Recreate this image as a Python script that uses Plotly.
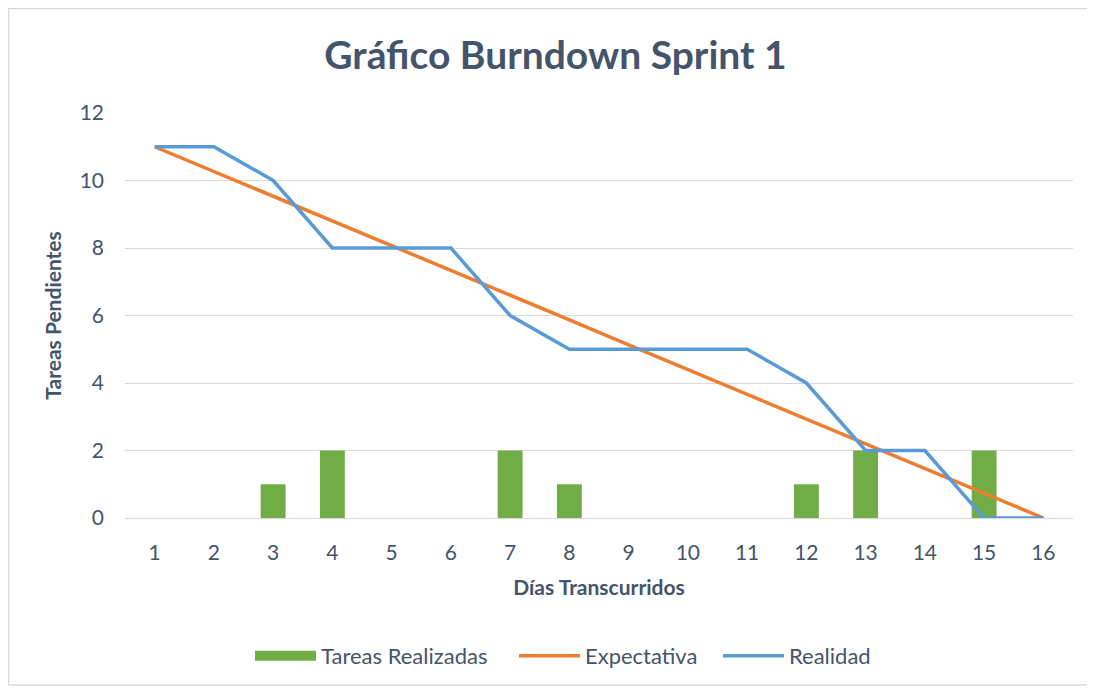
import plotly.graph_objects as go

dias = [1, 2, 3, 4, 5, 6, 7, 8, 9, 10, 11, 12, 13, 14, 15, 16]
tareas_realizadas = [0, 0, 1, 2, 0, 0, 2, 1, 0, 0, 0, 1, 2, 0, 2, 0]
expectativa = [11, 10.27, 9.53, 8.8, 8.07, 7.33, 6.6, 5.87, 5.13, 4.4, 3.67, 2.93, 2.2, 1.47, 0.73, 0]
realidad = [11, 11, 10, 8, 8, 8, 6, 5, 5, 5, 5, 4, 2, 2, 0, 0]

TXT = "#44546A"
FONT = "Lato, 'Open Sans', sans-serif"
GREEN, ORANGE, BLUE = "#70AD47", "#ED7D31", "#5B9BD5"

W, H = 1095, 691
ml, mr, mt, mb = 117, 30, 105, 181
pw = W - ml - mr
ph = H - mt - mb

fig = go.Figure()
fig.add_trace(go.Bar(x=dias, y=tareas_realizadas, name="Tareas Realizadas",
                     marker=dict(color=GREEN, line=dict(width=0)), width=0.42,
                     showlegend=False, legendgroup="tr"))
# legend entry for the bars (wide rectangle like the original)
fig.add_trace(go.Scatter(x=[dias[0]], y=[None], name="Tareas Realizadas", mode="lines",
                         line=dict(color=GREEN, width=14), legendgroup="tr",
                         legend="legend", hoverinfo="skip"))
fig.add_trace(go.Scatter(x=dias, y=expectativa, name="Expectativa", mode="lines",
                         line=dict(color=ORANGE, width=3.5), legend="legend2"))
fig.add_trace(go.Scatter(x=dias, y=realidad, name="Realidad", mode="lines",
                         line=dict(color=BLUE, width=3.5), legend="legend3"))

fig.add_shape(type="rect", xref="paper", yref="paper",
              x0=(0.5 - ml) / pw, x1=(1080 - ml) / pw,
              y0=(H - mb - 677) / ph, y1=(H - mb - 0.5) / ph,
              line=dict(color="#D9D9D9", width=1.5), layer="below")

leg_y = -(648 - (H - mb)) / ph
def leg(px):
    return dict(orientation="h", x=(px - ml) / pw, xanchor="left", y=leg_y,
                yanchor="middle", font=dict(size=22, color=TXT), itemwidth=61,
                bgcolor="rgba(0,0,0,0)")

fig.update_layout(
    width=W, height=H,
    margin=dict(l=ml, r=mr, t=mt, b=mb),
    paper_bgcolor="white", plot_bgcolor="white",
    font=dict(family=FONT, color=TXT, size=22),
    title=dict(text="<b>Gráfico Burndown Sprint 1</b>", x=0.5, xref="container",
               y=1 - 47 / H, yanchor="middle",
               font=dict(size=39, color=TXT, family=FONT)),
    xaxis=dict(range=[0.5, 16.5], tickmode="array", tickvals=dias,
               ticktext=[str(d) for d in dias], showgrid=False, zeroline=False,
               showline=False, ticks="", tickfont=dict(size=21, color=TXT),
               ticklabelstandoff=20,
               title=dict(text="<b>Días Transcurridos</b>", font=dict(size=21, color=TXT), standoff=17)),
    yaxis=dict(range=[0, 12], dtick=2, showgrid=True, gridcolor="#D9D9D9", gridwidth=1,
               zeroline=True, zerolinecolor="#D9D9D9", zerolinewidth=1,
               ticks="", tickfont=dict(size=21, color=TXT), ticklabelstandoff=20,
               title=dict(text="<b>Tareas Pendientes</b>", font=dict(size=21, color=TXT), standoff=12)),
    legend=leg(242),
    legend2=leg(506),
    legend3=leg(710),
    bargap=0.58,
)

fig.write_html("out.html")
